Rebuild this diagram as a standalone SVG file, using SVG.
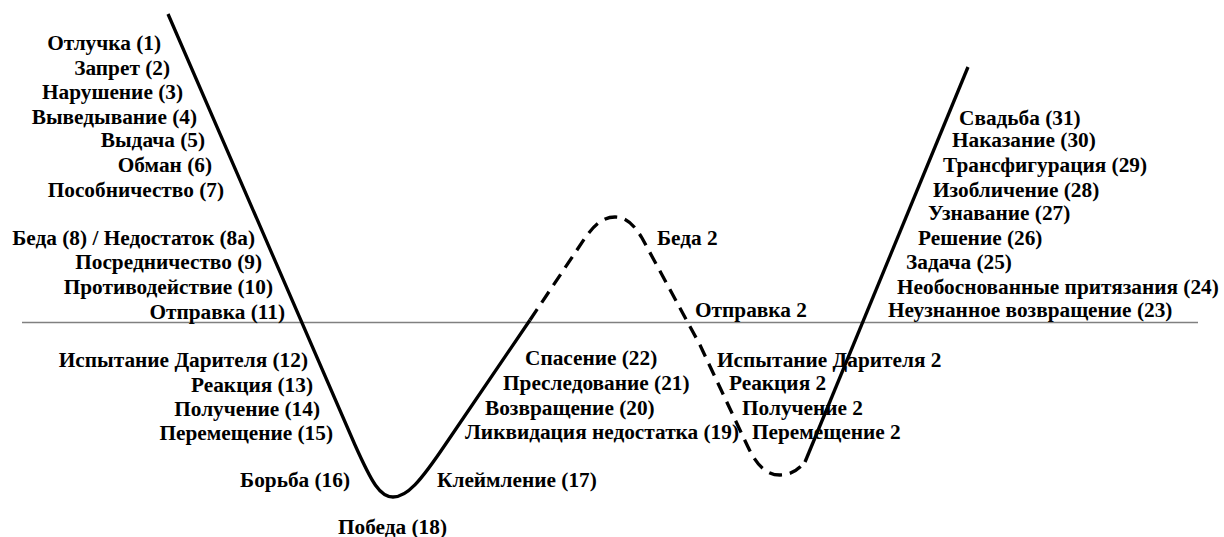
<svg xmlns="http://www.w3.org/2000/svg" width="1224" height="537" viewBox="0 0 1224 537">
<style>
text{font-family:"Liberation Serif","Times New Roman",serif;font-weight:bold;font-size:21.3px;fill:#000}
.e{text-anchor:end}
.curve{fill:none;stroke:#000;stroke-width:3.3;stroke-linecap:butt;stroke-linejoin:round}
.dash{stroke-dasharray:13 8}
.axis{stroke:#808080;stroke-width:1.5}
</style>
<rect width="1224" height="537" fill="#fff"/>
<g id="connectors">
<line class="axis" x1="22" y1="322.5" x2="1198" y2="322.5"/>
<path class="curve" d="M168,14 L355,445 C372,483 380,497 393,497 C407,497 420,482 445,445 L530,320"/>
<path class="curve dash" d="M530,320 L585,238 C597,221 606,217 615,217 C625,217 633,223 642,238 L700,345 L748,447 C757,466 767,475 780,475 C791,475 798,470 805,462"/>
<path class="curve" d="M805,462 L968,67"/>
</g>
<g id="n1"><text class="e" x="161" y="50">Отлучка (1)</text></g>
<g id="n2"><text class="e" x="170" y="75">Запрет (2)</text></g>
<g id="n3"><text class="e" x="183" y="99">Нарушение (3)</text></g>
<g id="n4"><text class="e" x="197" y="124">Выведывание (4)</text></g>
<g id="n5"><text class="e" x="205" y="147">Выдача (5)</text></g>
<g id="n6"><text class="e" x="212" y="172">Обман (6)</text></g>
<g id="n7"><text class="e" x="224" y="197">Пособничество (7)</text></g>
<g id="n8"><text class="e" x="255" y="245">Беда (8) / Недостаток (8а)</text></g>
<g id="n9"><text class="e" x="262" y="269">Посредничество (9)</text></g>
<g id="n10"><text class="e" x="273" y="294">Противодействие (10)</text></g>
<g id="n11"><text class="e" x="285" y="319">Отправка (11)</text></g>
<g id="n12"><text class="e" x="308" y="367">Испытание Дарителя (12)</text></g>
<g id="n13"><text class="e" x="313" y="392">Реакция (13)</text></g>
<g id="n14"><text class="e" x="320" y="416">Получение (14)</text></g>
<g id="n15"><text class="e" x="333" y="440">Перемещение (15)</text></g>
<g id="n16"><text class="e" x="350" y="487">Борьба (16)</text></g>
<g id="n17"><text x="437" y="487">Клеймление (17)</text></g>
<g id="n18"><text x="338" y="534">Победа (18)</text></g>
<g id="n19"><text x="465" y="439">Ликвидация недостатка (19)</text></g>
<g id="n20"><text x="485" y="415">Возвращение (20)</text></g>
<g id="n21"><text x="503" y="390">Преследование (21)</text></g>
<g id="n22"><text x="525" y="365">Спасение (22)</text></g>
<g id="b2"><text x="657" y="245">Беда 2</text></g>
<g id="o2"><text x="695" y="317">Отправка 2</text></g>
<g id="i2"><text x="717" y="367">Испытание Дарителя 2</text></g>
<g id="r2"><text x="729" y="390">Реакция 2</text></g>
<g id="p2"><text x="742" y="415">Получение 2</text></g>
<g id="m2"><text x="752" y="439">Перемещение 2</text></g>
<g id="n23"><text x="888" y="317">Неузнанное возвращение (23)</text></g>
<g id="n24"><text x="897" y="294">Необоснованные притязания (24)</text></g>
<g id="n25"><text x="906" y="269">Задача (25)</text></g>
<g id="n26"><text x="918" y="245">Решение (26)</text></g>
<g id="n27"><text x="928" y="220">Узнавание (27)</text></g>
<g id="n28"><text x="933" y="197">Изобличение (28)</text></g>
<g id="n29"><text x="943" y="172">Трансфигурация (29)</text></g>
<g id="n30"><text x="952" y="147">Наказание (30)</text></g>
<g id="n31"><text x="959" y="125">Свадьба (31)</text></g>
</svg>
